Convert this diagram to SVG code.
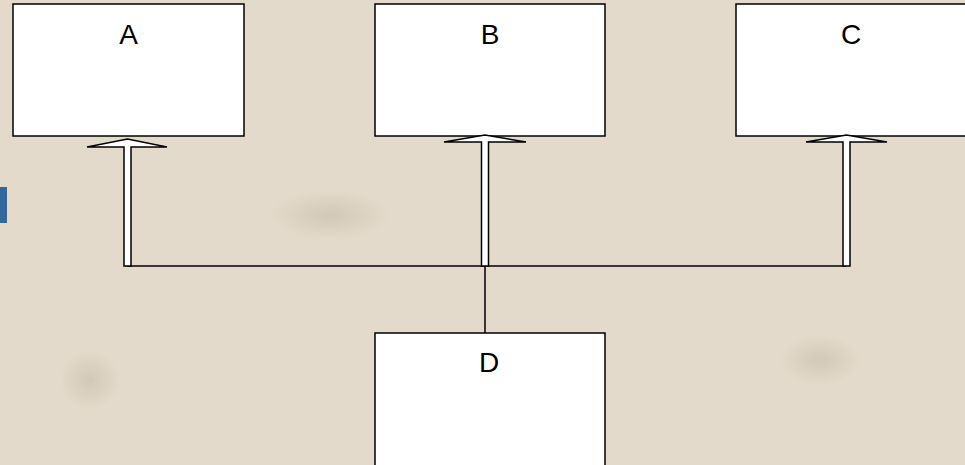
<svg xmlns="http://www.w3.org/2000/svg" width="965" height="465" viewBox="0 0 965 465">
<defs>
<style>
.box{fill:#fff;stroke:#000;stroke-width:1.5}
.lbl{font-family:"Liberation Sans",Arial,sans-serif;font-size:28px;fill:#000;text-anchor:middle}
.arr{fill:#fff;stroke:#000;stroke-width:1.5;stroke-linejoin:miter}
.ln{stroke:#000;stroke-width:1.5;fill:none}
</style>
<radialGradient id="bl" cx="0.5" cy="0.5" r="0.5"><stop offset="0" stop-color="#cfc4b2" stop-opacity="0.8"/><stop offset="1" stop-color="#cfc4b2" stop-opacity="0"/></radialGradient>
</defs>
<rect width="965" height="465" fill="#e3dacb"/>
<ellipse cx="330" cy="215" rx="60" ry="25" fill="url(#bl)"/>
<ellipse cx="820" cy="360" rx="40" ry="25" fill="url(#bl)"/>
<ellipse cx="90" cy="380" rx="30" ry="30" fill="url(#bl)"/>
<rect x="0" y="187" width="7" height="36" fill="#33679e"/>
<g id="connectors">
<polyline class="ln" points="127,266 846,266"/>
<line class="ln" x1="485" y1="266" x2="485" y2="333"/>
<path class="arr" d="M124,266 L124,147 L87,147 L127.5,139 L167,147 L131,147 L131,266 Z"/>
</g>
<g id="A"><rect class="box" x="13" y="4" width="231" height="132"/><text class="lbl" x="128.5" y="44">A</text></g>
<g id="B"><rect class="box" x="375" y="4" width="230" height="132"/><text class="lbl" x="490" y="44">B</text></g>
<g id="C"><rect class="box" x="736" y="4" width="232" height="132"/><text class="lbl" x="851" y="44">C</text></g>
<g id="D"><rect class="box" x="375" y="333" width="230" height="133"/><text class="lbl" x="489" y="372">D</text></g>
<g id="arrows">
<path class="arr" d="M481.5,266 L481.5,142 L444,142 L485,135 L526,142 L488.5,142 L488.5,266 Z"/>
<path class="arr" d="M843,266 L843,142 L806,142 L846.5,135 L887,142 L850,142 L850,266 Z"/>
</g>
</svg>
